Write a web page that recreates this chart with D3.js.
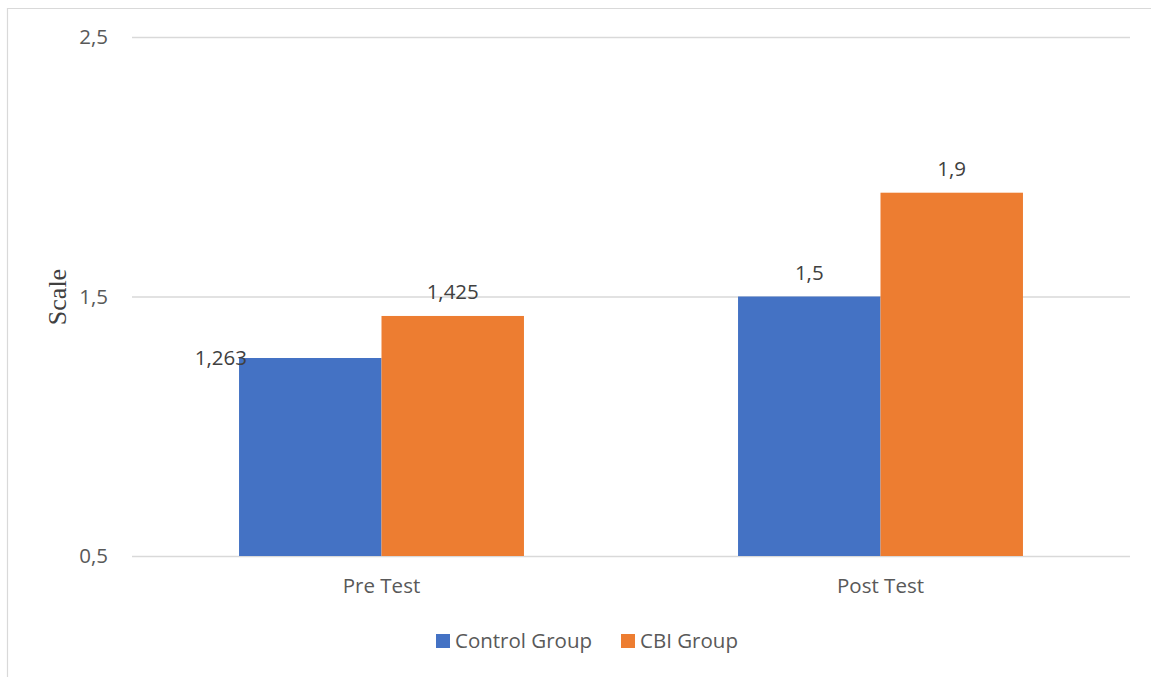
<!DOCTYPE html>
<html>
<head>
<meta charset="utf-8">
<script src="https://cdn.jsdelivr.net/npm/d3@7/dist/d3.min.js"></script>
<style>
  html, body { margin: 0; padding: 0; background: #fff; }
  svg { display: block; }
</style>
</head>
<body>
<svg id="chart" width="1151" height="677"></svg>
<script>
// Test phases and groups
const categories = ["Pre Test", "Post Test"];
const seriesNames = ["Control Group", "CBI Group"];
const controlValues = [1.263, 1.5];
const cbiValues = [1.425, 1.9];
const valueLabels = [["1,263", "1,5"], ["1,425", "1,9"]];
const yTicks = [0.5, 1.5, 2.5];
const yTickLabels = ["0,5", "1,5", "2,5"];
const colors = ["#4472C4", "#ED7D31"];

const svg = d3.select("#chart");
const font = "'Open Sans', 'Noto Sans', sans-serif";
const textColor = "#595959";
const fs = 20.5;

// Frame
svg.append("line").attr("x1", 7).attr("x2", 1151).attr("y1", 8.5).attr("y2", 8.5)
  .attr("stroke", "#d9d9d9").attr("stroke-width", 1.2);
svg.append("line").attr("x1", 7.5).attr("x2", 7.5).attr("y1", 8).attr("y2", 677)
  .attr("stroke", "#d9d9d9").attr("stroke-width", 1.2);

const plotLeft = 132, plotRight = 1130;
const y = d3.scaleLinear().domain([0.5, 2.5]).range([556, 37]);
const x0 = d3.scaleBand().domain(categories).range([plotLeft, plotRight])
  .paddingInner(0.429).paddingOuter(0.2145);
const x1 = d3.scaleBand().domain(seriesNames).range([0, x0.bandwidth()]).padding(0);

// Gridlines and tick labels
const yAxis = d3.axisLeft(y).tickValues(yTicks)
  .tickFormat((d, i) => yTickLabels[i])
  .tickSize(-(plotRight - plotLeft)).tickPadding(24);
const gy = svg.append("g").attr("transform", `translate(${plotLeft},0)`).call(yAxis);
gy.select(".domain").remove();
gy.selectAll(".tick line").attr("stroke", "#d9d9d9").attr("stroke-width", 1.5);
gy.selectAll(".tick text").attr("fill", textColor).attr("font-family", font)
  .attr("font-size", fs);

// Bars
const seriesValues = [controlValues, cbiValues];
const groups = svg.append("g");
seriesNames.forEach((name, s) => {
  groups.selectAll(null).data(categories).enter().append("rect")
    .attr("x", c => x0(c) + x1(name))
    .attr("y", (c, i) => y(seriesValues[s][i]))
    .attr("width", x1.bandwidth())
    .attr("height", (c, i) => y(0.5) - y(seriesValues[s][i]))
    .attr("fill", colors[s]);
});

// Value labels
seriesNames.forEach((name, s) => {
  categories.forEach((c, i) => {
    const v = seriesValues[s][i];
    const cx = x0(c) + x1(name) + x1.bandwidth() / 2;
    // the Pre Test control label sits beside its bar's top-left corner
    const beside = (s === 0 && i === 0);
    svg.append("text")
      .attr("x", beside ? x0(c) + x1(name) + 8 : cx)
      .attr("y", beside ? y(v) + 7 : y(v) - 17)
      .attr("text-anchor", beside ? "end" : "middle")
      .attr("font-family", font).attr("font-size", fs)
      .attr("fill", "#404040")
      .text(valueLabels[s][i]);
  });
});

// Category axis labels
const xAxis = d3.axisBottom(x0).tickSize(0).tickPadding(22);
const gx = svg.append("g").attr("transform", `translate(0,${y(0.5)})`).call(xAxis);
gx.select(".domain").remove();
gx.selectAll(".tick text").attr("fill", textColor).attr("font-family", font)
  .attr("font-size", fs);

// Y axis title
svg.append("text")
  .attr("transform", "translate(66,297) rotate(-90)")
  .attr("text-anchor", "middle")
  .attr("font-family", "'Liberation Serif', 'DejaVu Serif', serif")
  .attr("font-size", 26)
  .attr("fill", "#404040")
  .text("Scale");

// Legend
const legendX = [436, 621];
seriesNames.forEach((name, s) => {
  const g = svg.append("g").attr("transform", `translate(${legendX[s]},634)`);
  g.append("rect").attr("width", 14).attr("height", 14).attr("fill", colors[s]);
  g.append("text").attr("x", 19).attr("y", 14)
    .attr("font-family", font).attr("font-size", fs).attr("fill", textColor)
    .text(name);
});
</script>
</body>
</html>
